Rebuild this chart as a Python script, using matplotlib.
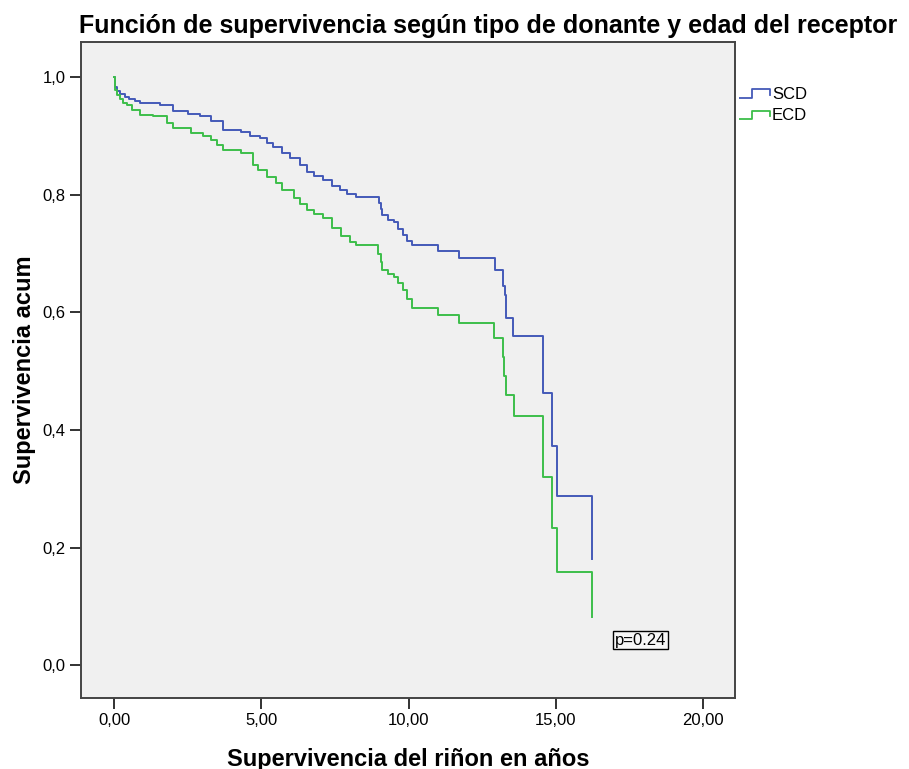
import matplotlib.pyplot as plt
from matplotlib.lines import Line2D

plt.rcParams['font.family'] = ['Liberation Sans', 'DejaVu Sans']

# Kaplan-Meier survival estimates (years, cumulative survival)
scd_t = [0, 0.01, 0.1, 0.2, 0.35, 0.5, 0.7, 0.87, 1.55, 2.0, 2.5, 2.9, 3.3, 3.7,
         4.3, 4.6, 4.96, 5.2, 5.4, 5.7, 5.97, 6.3, 6.55, 6.8, 7.1, 7.4, 7.68, 7.9,
         8.2, 8.98, 9.05, 9.1, 9.3, 9.5, 9.65, 9.8, 9.95, 10.1, 11.0, 11.7, 12.92,
         13.2, 13.26, 13.3, 13.56, 14.55, 14.88, 15.05, 16.23]
scd_s = [1.0, 0.983, 0.977, 0.972, 0.967, 0.963, 0.959, 0.956, 0.952, 0.943, 0.938,
         0.934, 0.926, 0.911, 0.907, 0.900, 0.896, 0.888, 0.881, 0.872, 0.862, 0.850,
         0.838, 0.832, 0.825, 0.815, 0.808, 0.802, 0.796, 0.786, 0.776, 0.765, 0.757,
         0.753, 0.742, 0.731, 0.722, 0.714, 0.704, 0.692, 0.672, 0.645, 0.630, 0.590,
         0.559, 0.463, 0.372, 0.287, 0.180]

ecd_t = [0, 0.01, 0.1, 0.2, 0.3, 0.42, 0.6, 0.87, 1.3, 1.8, 2.0, 2.6, 3.0, 3.3, 3.5,
         3.7, 4.3, 4.7, 4.9, 5.2, 5.5, 5.7, 6.1, 6.3, 6.55, 6.8, 7.1, 7.4, 7.7, 8.0,
         8.2, 8.97, 9.05, 9.1, 9.3, 9.5, 9.65, 9.8, 9.95, 10.1, 11.0, 11.7, 12.9,
         13.2, 13.25, 13.3, 13.57, 14.55, 14.88, 15.05, 16.23]
ecd_s = [1.0, 0.978, 0.970, 0.963, 0.957, 0.952, 0.944, 0.935, 0.934, 0.922, 0.913,
         0.906, 0.900, 0.893, 0.885, 0.876, 0.871, 0.850, 0.842, 0.830, 0.820, 0.808,
         0.794, 0.785, 0.774, 0.767, 0.760, 0.743, 0.730, 0.720, 0.714, 0.700, 0.685,
         0.672, 0.665, 0.660, 0.650, 0.638, 0.622, 0.607, 0.595, 0.582, 0.556, 0.524,
         0.491, 0.459, 0.423, 0.320, 0.233, 0.158, 0.082]

groups = ['SCD', 'ECD']
colors = ['#4459B8', '#3DBE4A']
x_ticks = [0, 5, 10, 15, 20]
y_ticks = [0.0, 0.2, 0.4, 0.6, 0.8, 1.0]
p_text = 'p=0.24'

fig = plt.figure(figsize=(9.09, 7.69), dpi=100)
ax = fig.add_axes([0.0891, 0.0923, 0.7195, 0.8531])
ax.set_facecolor('#F0F0F0')

for t, s, c in zip([scd_t, ecd_t], [scd_s, ecd_s], colors):
    ax.step(t, s, where='post', color=c, lw=1.4)

ax.set_xlim(-1.13, 21.09)
ax.set_ylim(-0.056, 1.06)
ax.set_xticks(x_ticks)
ax.set_xticklabels([f'{v:.2f}'.replace('.', ',') for v in x_ticks])
ax.set_yticks(y_ticks)
ax.set_yticklabels([f'{v:.1f}'.replace('.', ',') for v in y_ticks])
ax.tick_params(direction='out', length=8, width=1.3, pad=3, labelsize=12,
               colors='#222222', labelcolor='black')
for sp in ax.spines.values():
    sp.set_color('#444444')
    sp.set_linewidth(1.4)

ax.set_xlabel('Supervivencia del riñon en años', fontsize=17, fontweight='bold',
              labelpad=14)
ax.set_ylabel('Supervivencia acum', fontsize=17, fontweight='bold', labelpad=5)

ax.text(17.88, 0.0425, p_text, fontsize=12, ha='center', va='center',
        bbox=dict(boxstyle='square,pad=0.1', fc='#F6F6F6', ec='black', lw=1))

fig.text(0.537, 0.966, 'Función de supervivencia según tipo de donante y edad del receptor',
         ha='center', va='center', fontsize=18, fontweight='bold')

# step-shaped legend glyphs to the right of the plot
lax = fig.add_axes([0.813, 0.8375, 0.067, 0.052])
lax.set_xlim(0, 1)
lax.set_ylim(0, 1)
lax.axis('off')
glyph_y = [(0.68, 0.90, 0.75), (0.15, 0.36, 0.225)]
for g, c, (lo, hi, end) in zip(groups, colors, glyph_y):
    lax.add_line(Line2D([0.0, 0.213, 0.213, 0.508, 0.508],
                        [lo, lo, hi, hi, end], color=c, lw=1.3))
    lax.text(0.54, end, g, fontsize=12, va='center', ha='left')

fig.savefig('out.png', dpi=100, facecolor='white')
